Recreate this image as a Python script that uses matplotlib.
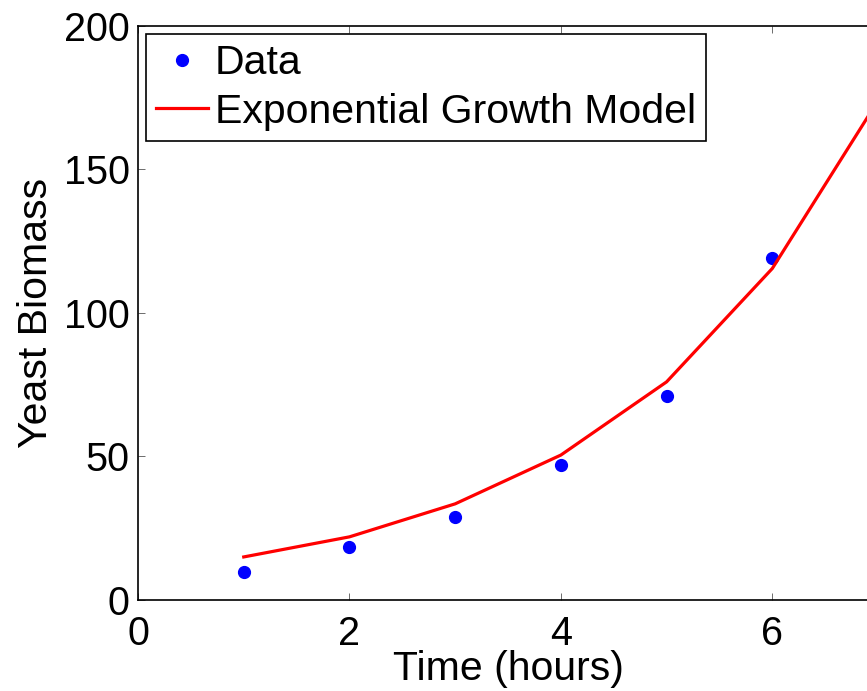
import matplotlib
matplotlib.use('Agg')
import matplotlib.pyplot as plt

# data
tiempo = [1, 2, 3, 4, 5, 6, 7]
biomasa = [9.8, 18.5, 29, 47, 71, 119]
modelo = [15, 22, 33.5, 50.5, 76, 115.5, 174]

plt.rcParams['font.family'] = ['Liberation Sans', 'DejaVu Sans']

fig = plt.figure(figsize=(8.67, 6.91), dpi=100)
# axes run past the right edge of the picture, as in the reference
ax = fig.add_axes([0.1592, 0.1317, 0.8535, 0.8307])

ax.plot(tiempo[:len(biomasa)], biomasa, 'o', color='#0000ff', markersize=8.5, label='Data')
ax.plot(tiempo, modelo, '-', color='#ff0000', linewidth=2.3, label='Exponential Growth Model')

ax.set_xlim(0, 7)
ax.set_ylim(0, 200)
ax.set_xticks([0, 2, 4, 6])
ax.set_yticks([0, 50, 100, 150, 200])
ax.tick_params(direction='in', length=5, width=0.6, labelsize=28.5, top=True, right=True,
               color='#555555')
ax.tick_params(axis='x', pad=11)
ax.tick_params(axis='y', pad=6)
for s in ax.spines.values():
    s.set_linewidth(1.2)
ax.set_xlabel('Time (hours)', fontsize=29.5, labelpad=-2)
ax.set_ylabel('Yeast Biomass', fontsize=29.5, labelpad=6)

leg = ax.legend(loc='upper left', bbox_to_anchor=(0.011, 0.986), borderaxespad=0,
                fontsize=29.5, fancybox=False, framealpha=1, edgecolor='black',
                handlelength=1.25, handletextpad=0.17, borderpad=0.25, labelspacing=0.25)
leg.get_frame().set_linewidth(1.2)

fig.savefig('out.png', dpi=100)
